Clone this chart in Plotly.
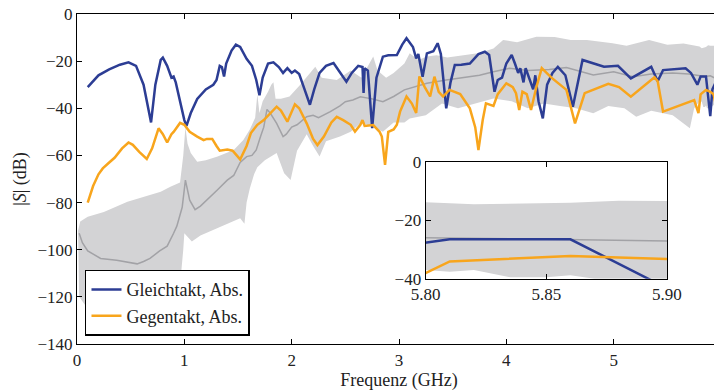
import plotly.graph_objects as go

# ---------------- data ----------------
gleich_f = [0.10,0.20,0.30,0.40,0.48,0.55,0.62,0.66,0.69,0.73,0.78,0.80,0.84,0.88,0.90,0.92,0.96,1.00,1.02,1.06,
            1.12,1.20,1.27,1.30,1.33,1.35,1.37,1.39,1.44,1.48,1.52,1.58,1.63,1.67,1.70,1.73,1.78,1.83,1.88,1.92,
            1.96,2.00,2.03,2.07,2.12,2.17,2.21,2.26,2.32,2.39,2.43,2.48,2.51,2.56,2.62,2.66,2.67,2.68,2.71,2.75,
            2.79,2.85,2.90,2.98,3.03,3.07,3.13,3.16,3.18,3.22,3.26,3.32,3.36,3.39,3.44,3.48,3.52,3.58,3.66,3.74,
            3.80,3.84,3.89,3.92,3.96,4.00,4.05,4.08,4.11,4.13,4.16,4.18,4.21,4.23,4.25,4.27,4.30,4.34,4.38,4.43,
            4.48,4.55,4.62,4.71,4.91,5.04,5.16,5.35,5.41,5.46,5.67,5.72,5.76,5.78,5.81,5.86,5.90,5.92,5.95]
gleich_db = [-31,-26,-23.5,-21.5,-20.5,-22,-30,-40,-46,-30,-19.5,-18.5,-22,-27,-26.5,-29,-37,-45,-47.5,-42,
             -36,-32,-30,-28,-22,-22.5,-26.5,-21,-15.5,-13,-14,-19,-22,-28,-34.5,-27,-21,-20.5,-22.5,-25,
             -23,-25,-24,-25.5,-32,-38.5,-32,-25,-22,-20.8,-23.4,-26.5,-28.7,-25,-22,-22.5,-33.5,-23,-24,-48.4,
             -27,-18.1,-17.5,-17.4,-13,-10.3,-14,-18.8,-17,-26.6,-16.7,-15.8,-12.4,-17,-40,-29,-21.6,-21.5,-21,-17,
             -16,-17.4,-33,-28,-27,-21,-17.4,-21,-25,-23,-29,-23,-27,-30,-32,-26,-37,-44.3,-30,-25,
             -22.4,-26,-39.3,-19.5,-22.4,-22,-27.3,-22.4,-28.5,-23.8,-23,-25,-28,-30,-26.5,-26.5,-43.3,-32,-29]

gegen_f = [0.10,0.15,0.20,0.24,0.30,0.35,0.42,0.48,0.52,0.58,0.65,0.70,0.76,0.80,0.84,0.88,0.90,0.93,0.96,1.00,
           1.05,1.12,1.18,1.21,1.26,1.30,1.33,1.40,1.45,1.52,1.58,1.62,1.68,1.74,1.80,1.86,1.90,1.96,2.03,2.07,
           2.14,2.20,2.24,2.30,2.37,2.42,2.48,2.55,2.59,2.64,2.66,2.68,2.76,2.82,2.84,2.87,2.90,2.95,2.98,3.01,
           3.07,3.12,3.16,3.19,3.24,3.29,3.33,3.37,3.41,3.47,3.57,3.66,3.71,3.74,3.78,3.81,3.88,3.92,4.00,4.06,
           4.09,4.12,4.15,4.19,4.23,4.28,4.33,4.42,4.56,4.64,4.73,4.95,5.05,5.16,5.38,5.41,5.46,5.75,5.79,5.81,
           5.86,5.90,5.93,5.95]
gegen_db = [-80,-73,-68,-65.5,-63,-61,-57,-54.5,-55.5,-58.5,-61.5,-57,-48.5,-51,-54.5,-51,-50,-48,-46.2,-47,
            -50,-52,-53.5,-53,-53,-56,-58,-57.5,-58,-61.7,-56,-50.5,-47,-45,-42,-39.3,-41,-45.7,-38.3,-40,
            -46.4,-53,-55.6,-52,-46,-43.6,-45,-47,-49.9,-47,-45,-47.5,-47.1,-50,-52,-64,-50,-49,-47,-41.4,
            -35,-38,-42,-26.5,-31,-35,-26.6,-33,-35,-32.2,-34,-40,-48,-57.7,-45,-37.9,-39,-34,-29.4,-31,
            -33.6,-40.7,-33,-34,-40.7,-31,-23,-27,-32.2,-46.4,-33.6,-29.6,-31,-35.1,-26.8,-28.5,-41.4,-36.5,-42,-34.1,
            -32.2,-33,-34,-38]

mean_f = [0.02,0.05,0.10,0.22,0.37,0.50,0.56,0.62,0.68,0.77,0.84,0.90,0.93,0.98,1.01,1.05,1.10,1.15,1.21,1.30,
          1.40,1.46,1.52,1.58,1.63,1.67,1.71,1.74,1.77,1.80,1.86,1.92,1.95,2.00,2.05,2.14,2.20,2.25,2.36,2.45,
          2.50,2.57,2.64,2.75,2.85,2.95,3.05,3.10,3.26,3.44,3.60,3.75,3.88,4.03,4.20,4.40,4.56,4.70,4.81,5.00,
          5.18,5.35,5.55,5.70,5.80,5.85,5.90,5.98]
mean_db = [-93,-97,-100.5,-103.7,-104.5,-105.5,-106,-105,-103.7,-100.5,-98.5,-93,-90,-82,-70.5,-79,-83,-81.5,-79,-75,
           -70.5,-68.5,-63,-60.5,-60,-57.7,-52,-48,-40.5,-42,-46.4,-52,-51,-48,-47,-43.6,-43,-44,-41.4,-39,
           -37.2,-36.5,-35.1,-36,-37.2,-35,-32.2,-31.5,-29.4,-28,-27,-26,-24.5,-23,-24,-23.5,-22.7,-24.5,-25.9,-24.5,
           -26.6,-25.5,-25,-25.5,-26,-26.5,-26.2,-28]

upper_f = [0.01,0.03,0.10,0.25,0.47,0.78,0.87,0.96,0.99,1.01,1.03,1.06,1.12,1.20,1.31,1.46,1.55,1.61,1.66,1.68,
           1.70,1.73,1.78,1.81,1.83,1.85,1.90,1.98,2.08,2.17,2.22,2.28,2.42,2.55,2.65,2.76,2.80,2.88,2.95,3.05,
           3.10,3.18,3.26,3.35,3.45,3.60,3.75,3.88,3.97,4.10,4.28,4.45,4.60,4.75,4.99,5.12,5.33,5.50,5.65,5.80,
           5.82,5.86,5.88,5.90,5.99]
upper_db = [-92,-88,-86,-84,-79.6,-75.4,-73.3,-71.5,-60,-48,-55,-59,-62.7,-62,-60.5,-57.7,-53.5,-49,-44,-34,
            -42,-37,-33,-30,-29,-36,-36,-35,-30,-25.2,-22.4,-27,-28,-24,-27,-18,-24,-27,-25,-21,
            -16.7,-19.5,-18,-17.5,-18.5,-17.5,-16.5,-14.6,-11,-12,-9.6,-9.8,-11,-11,-12.4,-13.5,-11,-13,-12.5,-13.8,
            -14.5,-14,-13.3,-13.5,-13.5]

lower_f = [0.01,0.02,0.10,0.50,0.85,0.92,0.97,0.99,1.00,1.04,1.07,1.15,1.30,1.45,1.52,1.56,1.58,1.61,1.65,1.68,
           1.75,1.86,1.93,1.99,2.05,2.14,2.20,2.26,2.32,2.45,2.55,2.65,2.76,2.85,2.95,3.05,3.10,3.25,3.40,3.55,
           3.70,3.88,4.05,4.20,4.35,4.50,4.65,4.81,4.95,5.10,5.21,5.35,5.55,5.71,5.75,5.80,5.81,5.82,5.835,5.85,
           5.86,5.87,5.90,5.92,5.98]
lower_db = [-92,-120,-125,-125,-122,-116,-110,-100,-93,-95,-96.5,-94,-91,-88,-86.7,-89,-80,-74,-68,-65,
            -62,-59,-67.6,-70.4,-58,-51,-56,-60.5,-54,-52,-50,-46,-48,-50,-46,-46,-44.3,-43,-38,-40,
            -38,-35.8,-37,-40,-38,-39,-40,-42.1,-39,-40,-43.6,-41,-43,-48.5,-40,-37,-37.6,-37,-39.5,-39.5,
            -38.8,-40,-40,-39,-36.5]

x_ticks = [0, 1, 2, 3, 4, 5, 6]
y_ticks = [0, -20, -40, -60, -80, -100, -120, -140]
inset_x_ticks = [5.80, 5.85, 5.90]
inset_x_labels = ["5.80", "5.85", "5.90"]
inset_y_ticks = [0, -20, -40]

# ---------------- style ----------------
BLUE = "#2c3d94"
ORANGE = "#f8a51c"
BAND = "#d3d3d5"
MEAN = "#a2a2a6"
FONT = "Liberation Serif"
INK = "#222222"

def lab(v):
    return ("\u2212" + str(abs(v))) if v < 0 else str(v)

fig = go.Figure()

for xa, ya in (("x", "y"), ("x2", "y2")):
    show = xa == "x"
    fig.add_trace(go.Scatter(x=upper_f + lower_f[::-1], y=upper_db + lower_db[::-1], fill="toself",
                             fillcolor=BAND, line=dict(width=0), mode="lines", hoverinfo="skip",
                             showlegend=False, xaxis=xa, yaxis=ya))
    fig.add_trace(go.Scatter(x=mean_f, y=mean_db, mode="lines", line=dict(color=MEAN, width=1.5),
                             showlegend=False, xaxis=xa, yaxis=ya))
    fig.add_trace(go.Scatter(x=gleich_f, y=gleich_db, mode="lines", name="Gleichtakt, Abs.",
                             line=dict(color=BLUE, width=2.5), showlegend=show, xaxis=xa, yaxis=ya))
    fig.add_trace(go.Scatter(x=gegen_f, y=gegen_db, mode="lines", name="Gegentakt, Abs.",
                             line=dict(color=ORANGE, width=2.5), showlegend=show, xaxis=xa, yaxis=ya))

def axis_style():
    return dict(showgrid=False, zeroline=False, showline=True, linecolor="black", linewidth=1.2,
                mirror="ticks", ticks="inside", ticklen=5, tickwidth=1, tickcolor="black",
                ticklabeloverflow="allow",
                tickfont=dict(family=FONT, size=17, color=INK))

# the html page adds an 8px body margin, so the figure is 8px smaller and margins shifted
fig.update_layout(
    width=714, height=383,
    margin=dict(l=69, r=1, t=6, b=47),
    paper_bgcolor="white", plot_bgcolor="white",
    font=dict(family=FONT, size=17, color=INK),
    xaxis=dict(domain=[0, 1], range=[0, 6], tickvals=x_ticks, ticktext=[str(v) for v in x_ticks],
               automargin=False,
               title=dict(text="Frequenz (GHz)", font=dict(family=FONT, size=18, color=INK), standoff=4),
               **axis_style()),
    yaxis=dict(domain=[0, 1], range=[-140, 0], tickvals=y_ticks, ticktext=[lab(v) for v in y_ticks],
               automargin=False,
               title=dict(text="|<i>S</i>| (dB)", font=dict(family=FONT, size=18, color=INK), standoff=6),
               **axis_style()),
    xaxis2=dict(domain=[0.5414, 0.9161], anchor="y2", range=[5.80, 5.90], tickvals=inset_x_ticks,
                ticktext=inset_x_labels, automargin=False, **axis_style()),
    yaxis2=dict(domain=[0.198, 0.5515], anchor="x2", range=[-40, 0], tickvals=inset_y_ticks,
                ticktext=[lab(v) for v in inset_y_ticks], automargin=False, **axis_style()),
    legend=dict(x=0.0124, y=0.025, xanchor="left", yanchor="bottom", bgcolor="white",
                bordercolor="black", borderwidth=1.5, font=dict(family=FONT, size=18, color=INK),
                tracegroupgap=0, itemwidth=30),
    shapes=[dict(type="rect", xref="x2 domain", yref="y2 domain", x0=0, x1=1, y0=0, y1=1,
                 fillcolor="white", line=dict(width=0), layer="below")],
)

fig.write_html("out.html")
